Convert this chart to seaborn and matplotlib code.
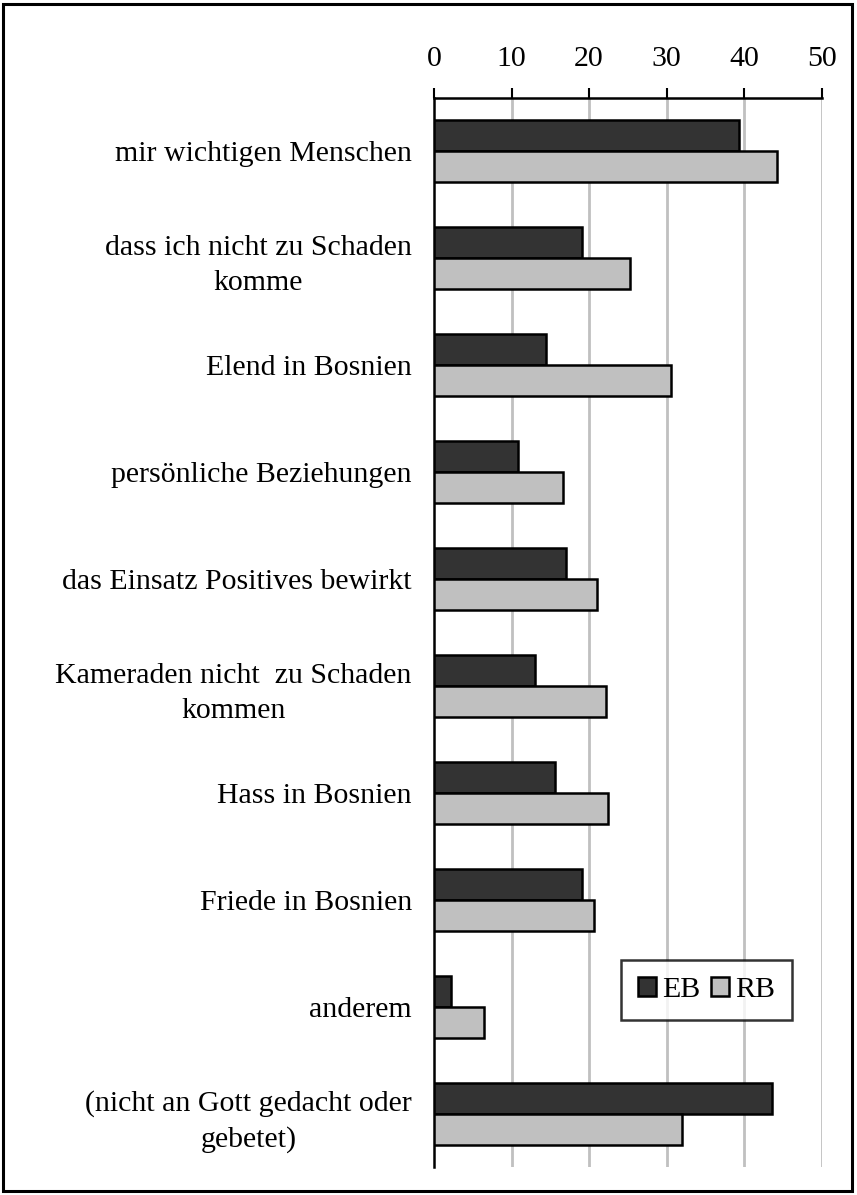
#!/usr/bin/env python3

import matplotlib.pyplot as plt
import matplotlib.patches as mpatches
import matplotlib.ticker as ticker
import pandas as pd
import seaborn as sns

categories = [
    "mir wichtigen Menschen",
    "dass ich nicht zu Schaden\nkomme",
    "Elend in Bosnien",
    "persönliche Beziehungen",
    "das Einsatz Positives bewirkt",
    "Kameraden nicht  zu Schaden\nkommen",
    "Hass in Bosnien",
    "Friede in Bosnien",
    "anderem",
    "(nicht an Gott gedacht oder\ngebetet)",
]
eb_values = [39.4, 19.1, 14.4, 10.8, 17.0, 13.0, 15.6, 19.1, 2.2, 43.6]
rb_values = [44.3, 25.3, 30.6, 16.6, 21.0, 22.2, 22.5, 20.6, 6.4, 32.0]
groups = ["EB", "RB"]
colors = {"EB": "#333333", "RB": "#c0c0c0"}

sns.set_style("white")
plt.rcParams["font.family"] = ["Liberation Serif", "DejaVu Serif"]
plt.rcParams["font.size"] = 21.5
plt.rcParams["text.color"] = "black"
plt.rcParams["xtick.color"] = "black"
plt.rcParams["ytick.color"] = "black"
plt.rcParams["xtick.labelcolor"] = "black"
plt.rcParams["ytick.labelcolor"] = "black"


def build_frame() -> pd.DataFrame:
    rows = []
    for cat, eb, rb in zip(categories, eb_values, rb_values):
        rows.append({"category": cat, "group": "EB", "value": eb})
        rows.append({"category": cat, "group": "RB", "value": rb})
    return pd.DataFrame(rows)


def main() -> None:
    df = build_frame()
    fig = plt.figure(figsize=(8.57, 11.95), dpi=100)
    ax = fig.add_axes([0.5064, 0.0234, 0.4524, 0.8946])

    sns.barplot(
        ax=ax,
        data=df,
        x="value",
        y="category",
        hue="group",
        hue_order=groups,
        order=categories,
        palette=colors,
        orient="h",
        width=0.58,
        edgecolor="black",
        linewidth=1.8,
        saturation=1,
        zorder=3,
    )

    ax.set_xlim(0, 50)
    ax.set_ylim(len(categories) - 0.5, -0.5)
    ax.xaxis.set_major_locator(ticker.MultipleLocator(10))
    ax.xaxis.tick_top()
    ax.tick_params(axis="x", direction="out", length=7, width=1.5,
                   pad=12, labelsize=21.5, color="black", labelcolor="black")
    for x in range(10, 51, 10):
        ax.axvline(x, color="#c0c0c0", linewidth=2, zorder=0)

    # category labels without ticks, boundary ticks as minor ticks
    ax.tick_params(axis="y", which="major", length=0, pad=16,
                   labelsize=21.5, labelcolor="black")
    ax.yaxis.set_minor_locator(ticker.FixedLocator(
        [i - 0.5 for i in range(len(categories) + 1)]))
    ax.tick_params(axis="y", which="minor", length=6, width=1.8,
                   direction="out", color="black")
    for lbl in ax.get_yticklabels():
        lbl.set_multialignment("center")
        lbl.set_linespacing(1.45)

    ax.spines["right"].set_visible(False)
    ax.spines["bottom"].set_visible(False)
    ax.spines["top"].set_linewidth(1.8)
    ax.spines["left"].set_linewidth(1.8)
    ax.spines["top"].set_color("black")
    ax.spines["left"].set_color("black")
    ax.set_xlabel("")
    ax.set_ylabel("")

    handles = [
        mpatches.Patch(facecolor=colors[g], edgecolor="black", linewidth=1.8,
                       label=g)
        for g in groups
    ]
    ax.get_legend().remove()
    leg = ax.legend(
        handles=handles,
        ncol=2,
        loc="lower right",
        bbox_to_anchor=(0.923, 0.138),
        borderaxespad=0,
        frameon=True,
        fancybox=False,
        edgecolor="black",
        handlelength=0.62,
        handleheight=0.62,
        handletextpad=0.2,
        columnspacing=0.35,
        borderpad=0.55,
        fontsize=21.5,
    )
    leg.get_frame().set_linewidth(1.8)
    leg.set_zorder(5)

    fig.patches.append(mpatches.Rectangle(
        (0.004, 0.003), 0.99, 0.994, transform=fig.transFigure,
        fill=False, edgecolor="black", linewidth=2.2))

    fig.savefig("out.png", dpi=100)


if __name__ == "__main__":
    main()
